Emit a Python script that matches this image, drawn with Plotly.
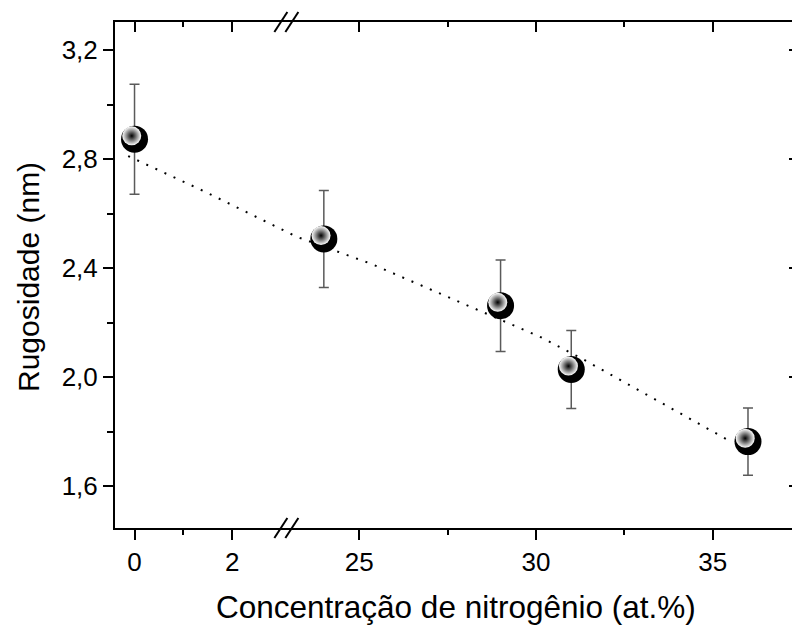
import plotly.graph_objects as go

# ---------------- data ----------------
conc = [0, 24, 29, 31, 36]                       # at.% N
rug = [2.873, 2.507, 2.262, 2.028, 1.763]        # nm
rug_err = [0.202, 0.178, 0.168, 0.143, 0.123]

guide_x = [-0.13, 1.41, 23.23, 25.35, 30.11, 31.34, 35.57]
guide_y = [2.811, 2.683, 2.515, 2.415, 2.148, 2.065, 1.759]

x_major = [0, 2, 25, 30, 35]
x_major_labels = ["0", "2", "25", "30", "35"]
x_minor = [1, 27.5, 32.5]
y_major = [1.6, 2.0, 2.4, 2.8, 3.2]
y_minor = [1.8, 2.2, 2.6, 3.0]

# broken x axis: [X_MIN, LEFT_END] // [RIGHT_START, X_MAX]
LEFT_END = 3.11
RIGHT_START = 22.94
RATIO = 0.724
X_MIN, X_MAX = -0.4, 37.245
Y_MIN, Y_MAX = 1.446, 3.303


def u(x):
    if x is None:
        return None
    return x if x <= LEFT_END else LEFT_END + (x - RIGHT_START) * RATIO


def U(xs):
    return [u(v) for v in xs]


W, H = 792, 625
ML, MR, MT, MB = 115, 0, 22, 97
plot_w = W - ML - MR
plot_h = H - MT - MB
u_min, u_max = u(X_MIN), u(X_MAX)
px_per_u = plot_w / (u_max - u_min)
px_per_y = plot_h / (Y_MAX - Y_MIN)

FONT = "Liberation Sans, Arial, sans-serif"

fig = go.Figure()

# dotted guide line
fig.add_trace(go.Scatter(
    x=U(guide_x), y=guide_y, mode="lines",
    line=dict(color="black", width=2, dash="2px,8px"),
    hoverinfo="skip", showlegend=False))

# spheres with error bars
fig.add_trace(go.Scatter(
    x=U(conc), y=rug, mode="markers",
    marker=dict(size=27, color="black", line=dict(width=0)),
    error_y=dict(type="data", array=rug_err, visible=True,
                 color="#5a5a5a", thickness=1.5, width=5),
    showlegend=False))

# highlight of the spheres (drawn on slightly shifted overlay axes)
dx_px, dy_px = 2.8, 3.3
fig.add_trace(go.Scatter(
    x=U(conc), y=rug, mode="markers", xaxis="x3", yaxis="y3",
    marker=dict(size=19, color="white", line=dict(width=0),
                gradient=dict(type="radial", color="#000000")),
    hoverinfo="skip", showlegend=False))

# helper traces so the mirror axes are drawn
fig.add_trace(go.Scatter(x=[None], y=[None], xaxis="x2", yaxis="y",
                         showlegend=False, hoverinfo="skip"))
fig.add_trace(go.Scatter(x=[None], y=[None], xaxis="x", yaxis="y2",
                         showlegend=False, hoverinfo="skip"))

tickfont = dict(family=FONT, size=26, color="black")

xaxis_common = dict(
    range=[u_min, u_max], tickmode="array",
    tickvals=U(x_major), showgrid=False, zeroline=False,
    showline=True, linecolor="black", linewidth=2,
)

fig.update_layout(
    width=W, height=H,
    margin=dict(l=ML, r=MR, t=MT, b=MB, pad=0),
    paper_bgcolor="white", plot_bgcolor="white",
    separators=",.",
    font=dict(family=FONT, color="black"),
    xaxis=dict(**xaxis_common, ticktext=x_major_labels,
               ticks="outside", ticklen=10, tickwidth=2, tickcolor="black",
               tickfont=tickfont,
               minor=dict(tickmode="array", tickvals=U(x_minor), ticks="outside",
                          ticklen=5, tickwidth=2, tickcolor="black"),
               anchor="y"),
    xaxis2=dict(**xaxis_common, overlaying="x", side="top", anchor="y",
                ticks="inside", ticklen=10, tickwidth=2, tickcolor="black",
                showticklabels=False,
                minor=dict(tickmode="array", tickvals=U(x_minor), ticks="inside",
                           ticklen=5, tickwidth=2, tickcolor="black")),
    yaxis=dict(range=[Y_MIN, Y_MAX], tickmode="array", tickvals=y_major,
               tickformat=".1f", ticks="outside", ticklen=10, tickwidth=2,
               tickcolor="black", tickfont=tickfont,
               showline=True, linecolor="black", linewidth=2,
               showgrid=False, zeroline=False,
               minor=dict(tickmode="array", tickvals=y_minor, ticks="outside",
                          ticklen=6, tickwidth=2, tickcolor="black")),
    yaxis2=dict(range=[Y_MIN, Y_MAX], overlaying="y", side="right", anchor="x",
                tickmode="array", tickvals=y_major, ticks="inside",
                ticklen=3, tickwidth=2, tickcolor="black",
                showticklabels=False, showline=False, showgrid=False,
                zeroline=False),
    xaxis3=dict(range=[u_min + dx_px / px_per_u, u_max + dx_px / px_per_u],
                overlaying="x", anchor="y3", visible=False),
    yaxis3=dict(range=[Y_MIN - dy_px / px_per_y, Y_MAX - dy_px / px_per_y],
                overlaying="y", anchor="x3", visible=False),
)

# axis break marks "//"
ub = u(LEFT_END)
for yanchor in (0, 1):
    for (x0, x1) in ((-12, 1), (-1, 12)):
        fig.add_shape(type="line", xref="x", yref="paper",
                      xsizemode="pixel", ysizemode="pixel",
                      xanchor=ub, yanchor=yanchor,
                      x0=x0, x1=x1, y0=-10, y1=10,
                      line=dict(color="black", width=2))

# axis titles
fig.add_annotation(text="Concentração de nitrogênio (at.%)",
                   xref="paper", yref="paper", x=(456 - ML) / plot_w,
                   y=-(607 - (H - MB)) / plot_h, xanchor="center", yanchor="middle",
                   showarrow=False, font=dict(family=FONT, size=31.5, color="black"))
fig.add_annotation(text="Rugosidade (nm)", textangle=-90,
                   xref="paper", yref="paper", x=-(ML - 28) / plot_w,
                   y=1 - (277 - MT) / plot_h, xanchor="center", yanchor="middle",
                   showarrow=False, font=dict(family=FONT, size=30, color="black"))

fig.write_html("out.html")
